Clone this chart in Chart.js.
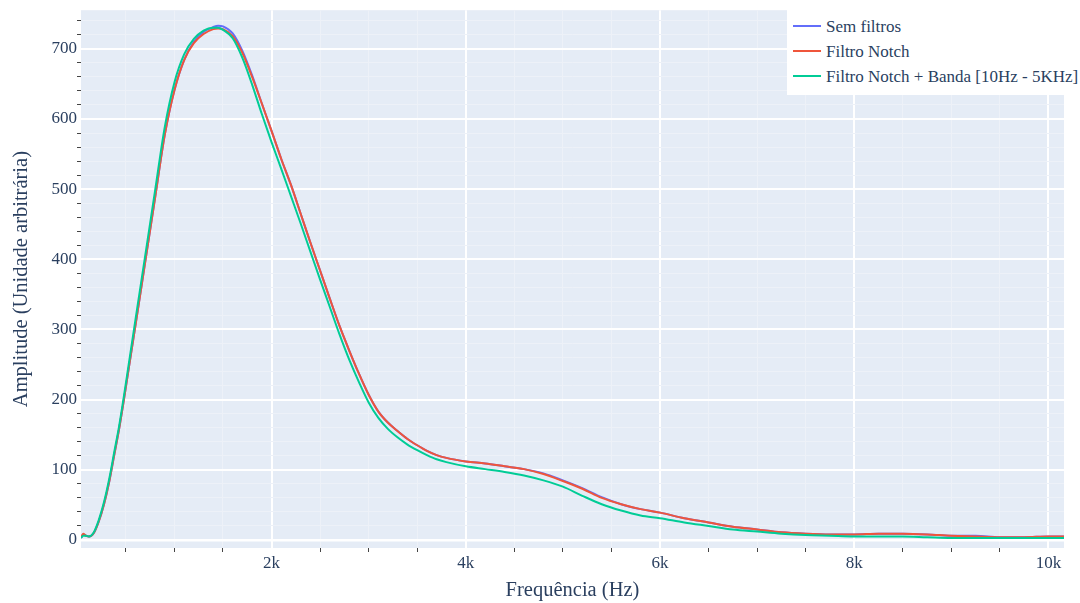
<!DOCTYPE html>
<html lang="pt">
<head>
<meta charset="utf-8">
<title>Espectro de frequência</title>
<script src="https://cdn.jsdelivr.net/npm/chart.js@4.4.1/dist/chart.umd.min.js"></script>
<style>
    html, body { margin: 0; padding: 0; background: #ffffff; }
    .wrap { position: relative; width: 1080px; height: 603px; }
    #legend {
        position: absolute; left: 787px; top: 10px; width: 293px;
        background: #ffffff; padding: 4px 0 6px 0; box-sizing: border-box;
        font-family: "Liberation Serif", "Times New Roman", serif; font-size: 17px; color: #2a3f5f;
    }
    #legend .item { position: relative; height: 25px; line-height: 25px; padding-left: 39px; white-space: nowrap; }
    #legend .item span.line { position: absolute; left: 6px; top: 11px; width: 28px; height: 2px; }
</style>
</head>
<body>
<div class="wrap">
    <canvas id="chart" width="1080" height="603"></canvas>
    <div id="legend"></div>
</div>
<script>
// Frequency points (Hz)
var freqHz = [38, 60, 90, 120, 170, 220, 275, 330, 380, 430,
    480, 530, 600, 700, 800, 900, 1000, 1100, 1200, 1300,
    1400, 1450, 1500, 1600, 1700, 1800, 1900, 2000, 2100, 2200,
    2300, 2400, 2500, 2600, 2700, 2800, 2900, 3000, 3100, 3200,
    3300, 3400, 3500, 3600, 3700, 3800, 4000, 4200, 4400, 4600,
    4800, 5000, 5200, 5400, 5600, 5800, 6000, 6250, 6500, 6750,
    7000, 7250, 7500, 7750, 8000, 8250, 8500, 8750, 9000, 9250,
    9500, 9750, 10000, 10160];

var semFiltros = [3, 8, 6, 5, 10, 26, 51, 84, 121, 158,
    200, 245, 307, 397, 487, 577, 641, 684, 710, 724,
    731, 733, 732, 722, 697, 662, 622, 583, 543, 506,
    465, 424, 384, 344, 305, 270, 237, 207, 183, 167,
    155, 144, 135, 127, 121, 117, 112, 109, 105, 101,
    95, 85, 74, 61, 51, 44, 39, 31, 25, 19,
    15, 11, 9, 8, 8, 9, 9, 8, 6, 6,
    4, 4, 5, 5];

var filtroNotch = [3, 9, 6, 5, 10, 26, 51, 84, 121, 158,
    200, 245, 307, 397, 487, 577, 641, 684, 708, 721,
    728, 729, 728, 718, 694, 660, 622, 583, 543, 506,
    465, 424, 384, 344, 305, 270, 237, 207, 183, 167,
    155, 144, 135, 127, 121, 117, 112, 109, 105, 101,
    94, 84, 73, 60, 51, 44, 39, 31, 25, 19,
    15, 11, 9, 8, 8, 9, 9, 8, 6, 5,
    4, 4, 5, 5];

var filtroNotchBanda = [3, 6, 6, 5, 11, 28, 54, 88, 125, 162,
    205, 251, 315, 406, 497, 588, 652, 692, 714, 726,
    730, 730, 727, 715, 687, 649, 607, 567, 529, 490,
    451, 411, 371, 332, 293, 257, 225, 196, 174, 158,
    146, 136, 128, 121, 115, 111, 105, 101, 97, 92,
    85, 76, 63, 51, 42, 35, 31, 25, 20, 15,
    12, 9, 7, 6, 5, 5, 5, 4, 3, 3,
    3, 3, 3, 3];

var seriesNames = ['Sem filtros', 'Filtro Notch', 'Filtro Notch + Banda [10Hz - 5KHz]'];
var seriesColors = ['#636efa', '#ef553b', '#00cc96'];
var seriesValues = [semFiltros, filtroNotch, filtroNotchBanda];

var xMin = 38, xMax = 10160;
var yMin = -11.4, yMax = 755;
var xMinorStep = 500, xMajorStep = 2000;
var yMinorStep = 20, yMajorStep = 100;

var fontFamily = '"Liberation Serif", "Times New Roman", serif';
var textColor = '#2a3f5f';

function toPoints(values) {
    return freqHz.map(function (f, i) { return { x: f, y: values[i] }; });
}

// ticks on round multiples of the step, whatever the axis bounds are
function stepTicks(step) {
    return function (scale) {
        var ticks = [];
        for (var v = Math.ceil(scale.min / step) * step; v <= scale.max; v += step) {
            ticks.push({ value: v });
        }
        scale.ticks = ticks;
    };
}

function isMajor(c, step) {
    return c.tick && c.tick.value % step === 0;
}

// plot background (plotly style)
var plotBackground = {
    id: 'plotBackground',
    beforeDraw: function (chart) {
        var a = chart.chartArea;
        var ctx = chart.ctx;
        ctx.save();
        ctx.fillStyle = '#e5ecf6';
        ctx.fillRect(a.left, a.top, a.right - a.left, a.bottom - a.top);
        ctx.restore();
    }
};

var datasets = seriesNames.map(function (name, i) {
    return {
        label: name,
        data: toPoints(seriesValues[i]),
        borderColor: seriesColors[i],
        backgroundColor: seriesColors[i],
        borderWidth: 2,
        pointRadius: 0,
        fill: false,
        cubicInterpolationMode: 'monotone',
        order: 2 - i
    };
});

var ctx = document.getElementById('chart').getContext('2d');
var chart = new Chart(ctx, {
    type: 'line',
    data: { datasets: datasets },
    plugins: [plotBackground],
    options: {
        responsive: false,
        animation: false,
        layout: { padding: { left: 0, right: 16, top: 9, bottom: 0 } },
        plugins: {
            legend: { display: false },
            tooltip: { enabled: false }
        },
        scales: {
            x: {
                type: 'linear',
                min: xMin,
                max: xMax,
                border: { display: false },
                afterFit: function (scale) { scale.height = 55; },
                afterBuildTicks: stepTicks(xMinorStep),
                grid: {
                    color: function (c) { return isMajor(c, xMajorStep) ? '#ffffff' : '#edf1f8'; },
                    lineWidth: function (c) { return isMajor(c, xMajorStep) ? 2 : 1; },
                    tickColor: function (c) { return isMajor(c, xMajorStep) ? 'rgba(0,0,0,0)' : '#444444'; },
                    tickLength: 4,
                    drawTicks: true
                },
                ticks: {
                    autoSkip: false,
                    maxRotation: 0,
                    padding: 1,
                    color: textColor,
                    font: { family: fontFamily, size: 17 },
                    callback: function (v) {
                        return v % xMajorStep === 0 ? (v / 1000) + 'k' : '';
                    }
                },
                title: {
                    display: true,
                    text: 'Frequência (Hz)',
                    color: textColor,
                    font: { family: fontFamily, size: 20.5 },
                    padding: { top: 0, bottom: 0 }
                }
            },
            y: {
                min: yMin,
                max: yMax,
                border: { display: false },
                afterFit: function (scale) { scale.width = 81; },
                afterBuildTicks: stepTicks(yMinorStep),
                grid: {
                    color: function (c) { return isMajor(c, yMajorStep) ? '#ffffff' : '#edf1f8'; },
                    lineWidth: function (c) {
                        if (!c.tick) return 1;
                        if (c.tick.value === 0) return 2.5;
                        return c.tick.value % yMajorStep === 0 ? 2 : 1;
                    },
                    tickColor: function (c) { return isMajor(c, yMajorStep) ? 'rgba(0,0,0,0)' : '#444444'; },
                    tickLength: 4,
                    drawTicks: true
                },
                ticks: {
                    autoSkip: false,
                    padding: 0,
                    color: textColor,
                    font: { family: fontFamily, size: 17 },
                    callback: function (v) {
                        return v % yMajorStep === 0 ? String(v) : '';
                    }
                },
                title: {
                    display: true,
                    text: 'Amplitude (Unidade arbitrária)',
                    color: textColor,
                    font: { family: fontFamily, size: 20.5 },
                    padding: 9
                }
            }
        }
    }
});

// legend box in the top-right corner, built from the series
var legendEl = document.getElementById('legend');
seriesNames.forEach(function (name, i) {
    var item = document.createElement('div');
    item.className = 'item';
    var line = document.createElement('span');
    line.className = 'line';
    line.style.background = seriesColors[i];
    item.appendChild(line);
    item.appendChild(document.createTextNode(name));
    legendEl.appendChild(item);
});
</script>
</body>
</html>
